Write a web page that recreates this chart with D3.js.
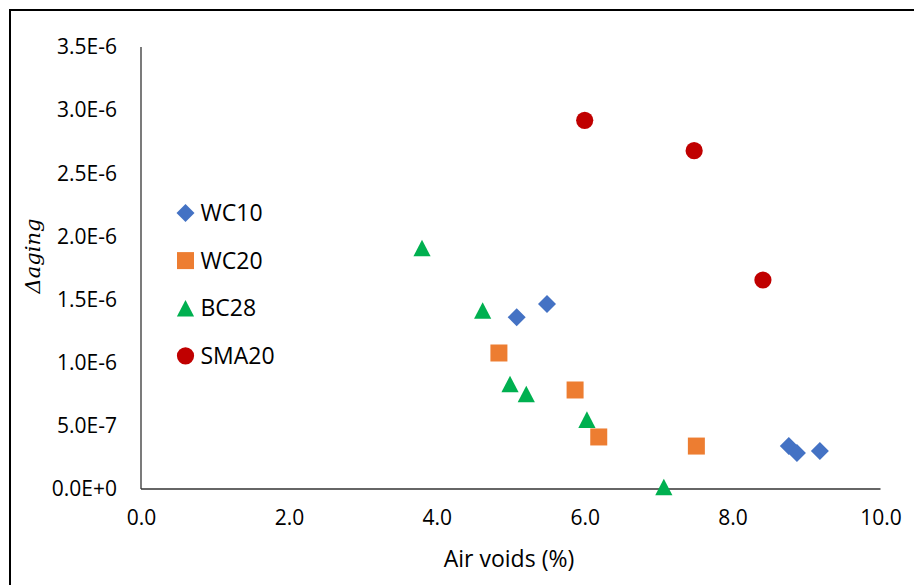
<!DOCTYPE html>
<html>
<head>
<meta charset="utf-8" />
<script src="https://cdn.jsdelivr.net/npm/d3@7"></script>
<style>
  body { margin: 0; background: #fff; }
  text { font-family: "Open Sans", sans-serif; fill: #000; }
  .axis path { stroke: #333; stroke-width: 1.3; }
  .axis text { font-size: 21px; }
</style>
</head>
<body>
<script>
// data (air voids %, delta aging)
var wc10x = [5.08, 5.49, 8.76, 8.87, 9.18];
var wc10y = [1.36e-6, 1.465e-6, 0.34e-6, 0.285e-6, 0.30e-6];
var wc20x = [4.84, 5.87, 6.19, 7.51];
var wc20y = [1.077e-6, 0.784e-6, 0.412e-6, 0.34e-6];
var bc28x = [3.80, 4.62, 4.99, 5.21, 6.03, 7.07];
var bc28y = [1.908e-6, 1.413e-6, 0.831e-6, 0.752e-6, 0.549e-6, 0.016e-6];
var sma20x = [6.00, 7.48, 8.41];
var sma20y = [2.919e-6, 2.679e-6, 1.655e-6];

var seriesNames = ["WC10", "WC20", "BC28", "SMA20"];
var colors = ["#4472C4", "#ED7D31", "#00B050", "#C00000"];
var xTicks = [0, 2, 4, 6, 8, 10];
var yTicks = [0, 0.5e-6, 1.0e-6, 1.5e-6, 2.0e-6, 2.5e-6, 3.0e-6, 3.5e-6];

var series = [
  {name: "WC10", xs: wc10x, ys: wc10y, shape: "diamond"},
  {name: "WC20", xs: wc20x, ys: wc20y, shape: "square"},
  {name: "BC28", xs: bc28x, ys: bc28y, shape: "triangle"},
  {name: "SMA20", xs: sma20x, ys: sma20y, shape: "circle"}
];

var width = 914, height = 585;
var x = d3.scaleLinear().domain([0, 10]).range([141, 880.5]);
var y = d3.scaleLinear().domain([0, 3.5e-6]).range([489, 47]);

function marker(shape) {
  if (shape == "diamond") return "M0,-9L9,0L0,9L-9,0Z";
  if (shape == "square") return "M-8.5,-8.5H8.5V8.5H-8.5Z";
  if (shape == "triangle") return "M0,-8.3L8.6,8.3H-8.6Z";
  return d3.symbol().type(d3.symbolCircle).size(Math.PI * 8.6 * 8.6)();
}

var svg = d3.select("body").append("svg")
  .attr("width", width)
  .attr("height", height);

// chart frame
svg.append("rect")
  .attr("x", 10).attr("y", 10)
  .attr("width", 1000).attr("height", 700)
  .attr("fill", "none")
  .attr("stroke", "#000")
  .attr("stroke-width", 2);

var yfmt = function(d) { return d3.format(".1e")(d).toUpperCase(); };

var yAxis = svg.append("g")
  .attr("class", "axis")
  .attr("transform", "translate(" + x(0) + ",0)")
  .call(d3.axisLeft(y).tickValues(yTicks).tickSize(0).tickPadding(24).tickFormat(yfmt));

var xAxis = svg.append("g")
  .attr("class", "axis")
  .attr("transform", "translate(0," + y(0) + ")")
  .call(d3.axisBottom(x).tickValues(xTicks).tickSize(0).tickPadding(21).tickFormat(d3.format(".1f")));

yAxis.select(".domain").attr("d", "M0," + y(0) + "V" + y(3.5e-6));
xAxis.select(".domain").attr("d", "M" + x(0) + ",0H" + x(10));

svg.append("text")
  .attr("x", 509).attr("y", 567)
  .attr("text-anchor", "middle")
  .style("font-size", "23px")
  .text("Air voids (%)");

svg.append("text")
  .attr("transform", "translate(40,256) rotate(-90)")
  .attr("text-anchor", "middle")
  .style("font-family", "'DejaVu Serif', serif")
  .style("font-style", "italic")
  .style("font-size", "21px")
  .text("\u0394aging");

// points
series.forEach(function(s, i) {
  svg.append("g").selectAll("path")
    .data(s.xs)
    .enter()
    .append("path")
    .attr("d", marker(s.shape))
    .attr("transform", function(d, j) { return "translate(" + x(d) + "," + y(s.ys[j]) + ")"; })
    .attr("fill", colors[i]);
});

// legend
var legend = svg.append("g").selectAll("g")
  .data(series)
  .enter()
  .append("g")
  .attr("transform", function(d, i) { return "translate(185.5," + (213 + i * 47.6) + ")"; });

legend.append("path")
  .attr("d", function(d) { return marker(d.shape); })
  .attr("fill", function(d, i) { return colors[i]; });

legend.append("text")
  .attr("x", 15)
  .attr("dy", "0.35em")
  .style("font-size", "23px")
  .text(function(d) { return d.name; });
</script>
</body>
</html>
